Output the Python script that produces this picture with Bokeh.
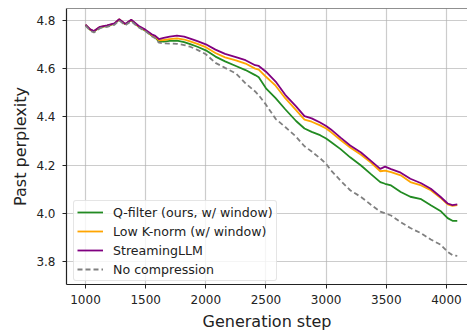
from bokeh.plotting import figure
from bokeh.models import (Range1d, FixedTicker, PrintfTickFormatter, Legend,
                          LegendItem, Span, ColumnDataSource)
from bokeh.embed import file_html
from bokeh.resources import INLINE

# Generation steps at which past perplexity was sampled
steps = [1000, 1040, 1070, 1120, 1180, 1240, 1280, 1310, 1330, 1380, 1440, 1500,
         1550, 1580, 1610, 1650, 1700, 1760, 1820, 1870, 1930, 2000, 2080, 2160,
         2250, 2330, 2410, 2440, 2500, 2580, 2660, 2750, 2820, 2880, 2950, 3000,
         3040, 3120, 3200, 3290, 3370, 3450, 3490, 3540, 3620, 3700, 3790, 3870,
         3950, 4010, 4050, 4090]

q_filter = [4.782, 4.762, 4.755, 4.773, 4.779, 4.787, 4.805, 4.793, 4.785, 4.802,
            4.776, 4.758, 4.739, 4.730, 4.714, 4.713, 4.716, 4.717, 4.711, 4.703,
            4.692, 4.677, 4.651, 4.631, 4.612, 4.595, 4.574, 4.565, 4.519, 4.478,
            4.432, 4.383, 4.352, 4.338, 4.324, 4.310, 4.296, 4.266, 4.232, 4.198,
            4.163, 4.129, 4.122, 4.115, 4.088, 4.068, 4.058, 4.033, 4.009, 3.979,
            3.968, 3.968]

low_k_norm = [4.783, 4.763, 4.756, 4.774, 4.780, 4.788, 4.806, 4.794, 4.786, 4.803,
              4.777, 4.760, 4.741, 4.733, 4.718, 4.720, 4.724, 4.727, 4.722, 4.714,
              4.704, 4.690, 4.666, 4.648, 4.635, 4.622, 4.601, 4.597, 4.567, 4.530,
              4.478, 4.428, 4.389, 4.380, 4.365, 4.352, 4.337, 4.304, 4.273, 4.243,
              4.211, 4.174, 4.177, 4.170, 4.157, 4.129, 4.115, 4.095, 4.064, 4.036,
              4.030, 4.033]

streaming_llm = [4.784, 4.764, 4.757, 4.775, 4.781, 4.789, 4.807, 4.795, 4.787, 4.804,
                 4.779, 4.762, 4.744, 4.737, 4.724, 4.729, 4.734, 4.738, 4.734, 4.726,
                 4.715, 4.702, 4.680, 4.662, 4.649, 4.636, 4.615, 4.612, 4.588, 4.547,
                 4.492, 4.444, 4.403, 4.394, 4.377, 4.362, 4.348, 4.314, 4.281, 4.252,
                 4.218, 4.184, 4.193, 4.183, 4.168, 4.143, 4.124, 4.101, 4.068, 4.040,
                 4.033, 4.036]

no_compression = [4.780, 4.758, 4.751, 4.769, 4.775, 4.783, 4.801, 4.789, 4.781, 4.798,
                  4.773, 4.756, 4.736, 4.727, 4.709, 4.706, 4.705, 4.704, 4.699, 4.692,
                  4.679, 4.661, 4.625, 4.604, 4.581, 4.540, 4.506, 4.490, 4.451, 4.392,
                  4.358, 4.318, 4.278, 4.256, 4.228, 4.205, 4.178, 4.135, 4.095, 4.067,
                  4.036, 4.006, 3.999, 3.990, 3.962, 3.938, 3.916, 3.890, 3.869, 3.839,
                  3.825, 3.822]

series = [
    ("Q-filter (ours, w/ window)", "q", "#228b22", None),
    ("Low K-norm (w/ window)", "k", "#ffa500", None),
    ("StreamingLLM", "s", "#800080", None),
    ("No compression", "n", "#808080", "5 3"),
]

x_ticks = [1000, 1500, 2000, 2500, 3000, 3500, 4000]
y_ticks = [3.8, 4.0, 4.2, 4.4, 4.6, 4.8]

FONT = "DejaVu Sans"
TEXT = "#222222"

p = figure(width=467, height=333, output_backend="svg", toolbar_location=None,
           x_range=Range1d(842, 4175), y_range=Range1d(3.703, 4.851),
           min_border_left=66, min_border_right=0, min_border_top=8,
           min_border_bottom=46)
p.outline_line_color = None
p.background_fill_color = "white"
p.border_fill_color = "white"

src = ColumnDataSource(dict(step=steps, q=q_filter, k=low_k_norm,
                            s=streaming_llm, n=no_compression))
items = []
for label, col, color, dash in series:
    kw = dict(line_color=color, line_width=1.8)
    if dash:
        kw["line_dash"] = dash
    r = p.line("step", col, source=src, **kw)
    items.append(LegendItem(label=label, renderers=[r]))

# top spine
p.add_layout(Span(location=4.851, dimension="width", line_color="#222222",
                  line_width=1.2))

for ax in (p.xaxis[0], p.yaxis[0]):
    ax.axis_line_color = "#222222"
    ax.axis_line_width = 1.2
    ax.major_tick_in = 0
    ax.major_tick_out = 4
    ax.major_tick_line_color = "#222222"
    ax.minor_tick_line_color = None
    ax.major_label_text_font = FONT
    ax.major_label_text_font_size = "12px"
    ax.major_label_text_color = TEXT
    ax.axis_label_text_font = FONT
    ax.axis_label_text_font_size = "16px"
    ax.axis_label_text_font_style = "normal"
    ax.axis_label_text_color = TEXT

p.xaxis.ticker = FixedTicker(ticks=x_ticks)
p.yaxis.ticker = FixedTicker(ticks=y_ticks)
p.yaxis.formatter = PrintfTickFormatter(format="%.1f")
p.xaxis.axis_label = "Generation step"
p.yaxis.axis_label = "Past perplexity"
p.xaxis.major_label_standoff = 6
p.yaxis.major_label_standoff = 7
p.xaxis.axis_label_standoff = 5
p.yaxis.axis_label_standoff = 3

p.xgrid.ticker = FixedTicker(ticks=x_ticks)
p.ygrid.ticker = FixedTicker(ticks=y_ticks)
for g in (p.xgrid[0], p.ygrid[0]):
    g.grid_line_color = "#b0b0b0"
    g.grid_line_alpha = 0.65
    g.grid_line_width = 1.2

legend = Legend(items=items, location=(7, 3))
legend.label_text_font = FONT
legend.label_text_font_size = "12.6px"
legend.label_text_color = TEXT
legend.label_height = 16
legend.glyph_height = 16
legend.glyph_width = 26
legend.label_standoff = 10
legend.spacing = 3
legend.padding = 3
legend.margin = 0
legend.border_line_color = "#cccccc"
legend.border_line_width = 1
legend.border_radius = 3
legend.background_fill_color = "white"
legend.background_fill_alpha = 0.8
p.add_layout(legend)

open("out.html", "w").write(file_html(p, INLINE))
